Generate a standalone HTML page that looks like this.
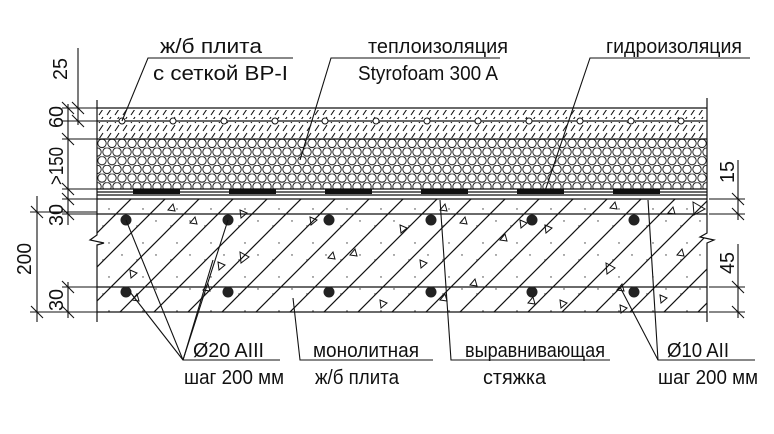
<!DOCTYPE html>
<html><head><meta charset="utf-8"><style>
html,body{margin:0;padding:0;background:#fff;}
svg{display:block;}
text{font-family:"Liberation Sans","DejaVu Sans",sans-serif;font-size:20px;fill:#111;}
</style></head><body>
<svg width="774" height="434" viewBox="0 0 774 434" xmlns="http://www.w3.org/2000/svg">
<defs>
<pattern id="hexA" x="97" y="139" width="10" height="17.32" patternUnits="userSpaceOnUse">
<circle cx="5" cy="4.33" r="4.2" fill="none" stroke="#111" stroke-width="0.9"/>
</pattern>
<pattern id="hexB" x="102" y="147.66" width="10" height="17.32" patternUnits="userSpaceOnUse">
<circle cx="5" cy="4.33" r="4.2" fill="none" stroke="#111" stroke-width="0.9"/>
</pattern>
<pattern id="sm" x="97" y="108" width="8" height="8" patternUnits="userSpaceOnUse">
<line x1="2" y1="7" x2="6" y2="1" stroke="#111" stroke-width="1.1"/>
</pattern>
<pattern id="diag" x="97" y="199" width="34" height="34" patternUnits="userSpaceOnUse">
<line x1="0" y1="34" x2="34" y2="0" stroke="#111" stroke-width="1.2"/>
<line x1="-2" y1="2" x2="2" y2="-2" stroke="#111" stroke-width="1.2"/>
<line x1="32" y1="36" x2="36" y2="32" stroke="#111" stroke-width="1.2"/>
<circle cx="12" cy="10" r="0.7" fill="#333"/><circle cx="25" cy="22" r="0.7" fill="#333"/><circle cx="6" cy="27" r="0.7" fill="#333"/>
</pattern>
</defs>
<g stroke="#111" fill="none" stroke-width="1.2">
<rect x="97" y="110" width="610" height="9" fill="url(#sm)" stroke="none"/>
<rect x="97" y="122" width="610" height="16" fill="url(#sm)" stroke="none"/>
<line x1="97" y1="108" x2="707" y2="108"/>
<line x1="97" y1="121" x2="707" y2="121"/>
<line x1="97" y1="139" x2="707" y2="139"/>
<rect x="97" y="139" width="610" height="50" fill="url(#hexA)" stroke="none"/>
<rect x="97" y="139" width="610" height="50" fill="url(#hexB)" stroke="none"/>
<line x1="97" y1="189" x2="707" y2="189"/>
<line x1="97" y1="192" x2="707" y2="192"/>
<line x1="97" y1="195" x2="707" y2="195"/>
<line x1="97" y1="199" x2="707" y2="199"/>
<rect x="97" y="199" width="610" height="113" fill="url(#diag)" stroke="none"/>
<line x1="97" y1="214" x2="707" y2="214"/>
<line x1="97" y1="287" x2="707" y2="287"/>
<line x1="97" y1="312" x2="707" y2="312"/>
<polyline points="97,100 97,235 90,240 104,243 97,245 97,322" fill="#fff" stroke="#111"/>
<polyline points="707,98 707,233 700,237 714,240 707,243 707,322" fill="#fff" stroke="#111"/>
</g>
<g fill="#111">
<rect x="133" y="189" width="47" height="5"/><rect x="229" y="189" width="47" height="5"/>
<rect x="325" y="189" width="47" height="5"/><rect x="421" y="189" width="47" height="5"/>
<rect x="517" y="189" width="47" height="5"/><rect x="613" y="189" width="47" height="5"/>
</g>
<g fill="#fff" stroke="#111" stroke-width="1">
<circle cx="122" cy="121" r="3"/><circle cx="173" cy="121" r="3"/><circle cx="224" cy="121" r="3"/><circle cx="275" cy="121" r="3"/><circle cx="325" cy="121" r="3"/><circle cx="376" cy="121" r="3"/><circle cx="427" cy="121" r="3"/><circle cx="478" cy="121" r="3"/><circle cx="529" cy="121" r="3"/><circle cx="580" cy="121" r="3"/><circle cx="631" cy="121" r="3"/><circle cx="681" cy="121" r="3"/>
</g>
<g fill="#222">
<circle cx="126" cy="220" r="5.5"/><circle cx="228" cy="220" r="5.5"/><circle cx="329" cy="220" r="5.5"/><circle cx="431" cy="220" r="5.5"/><circle cx="532" cy="220" r="5.5"/><circle cx="634" cy="220" r="5.5"/>
<circle cx="126" cy="292" r="5.5"/><circle cx="228" cy="292" r="5.5"/><circle cx="329" cy="292" r="5.5"/><circle cx="431" cy="292" r="5.5"/><circle cx="532" cy="292" r="5.5"/><circle cx="634" cy="292" r="5.5"/>
</g>
<g fill="none" stroke="#111" stroke-width="1">
<path d="M168,210 l5,-6 l2,7z"/><path d="M190,223 l5,-6 l2,7z"/><path d="M240,210 l7,3 l-6,5z"/><path d="M328,258 l5,-6 l2,7z"/><path d="M218,262 l7,3 l-6,5z"/><path d="M240,252 l9,5 l-8,6z"/><path d="M310,217 l7,3 l-6,5z"/><path d="M130,270 l7,3 l-6,5z"/><path d="M203,290 l5,-6 l2,7z"/><path d="M132,300 l5,-6 l2,7z"/><path d="M400,225 l7,3 l-6,5z"/><path d="M440,210 l5,-6 l2,7z"/><path d="M520,220 l7,3 l-6,5z"/><path d="M460,223 l5,-6 l2,7z"/><path d="M610,208 l5,-6 l2,7z"/><path d="M668,213 l5,-6 l2,7z"/><path d="M693,202 l12,7 l-11,6z"/><path d="M606,263 l9,5 l-8,6z"/><path d="M617,290 l5,-6 l2,7z"/><path d="M677,255 l5,-6 l2,7z"/><path d="M620,305 l7,3 l-6,5z"/><path d="M660,295 l7,3 l-6,5z"/><path d="M500,240 l5,-6 l2,7z"/><path d="M420,260 l7,3 l-6,5z"/><path d="M350,255 l5,-6 l2,7z"/><path d="M560,300 l7,3 l-6,5z"/><path d="M528,303 l5,-6 l2,7z"/><path d="M440,300 l5,-6 l2,7z"/><path d="M470,285 l5,-6 l2,7z"/><path d="M380,300 l7,3 l-6,5z"/><path d="M545,225 l7,3 l-6,5z"/>
</g>
<g stroke="#111" stroke-width="1.1" fill="none">
<line x1="78" y1="48" x2="78" y2="125"/>
<line x1="62" y1="108" x2="97" y2="108"/><line x1="62" y1="121" x2="97" y2="121"/>
<line x1="72" y1="102" x2="84" y2="114"/><line x1="72" y1="115" x2="84" y2="127"/>
<line x1="68" y1="104" x2="68" y2="225"/>
<line x1="62" y1="139" x2="97" y2="139"/><line x1="62" y1="189" x2="97" y2="189"/><line x1="62" y1="199" x2="97" y2="199"/><line x1="62" y1="214" x2="97" y2="214"/>
<line x1="62" y1="102" x2="74" y2="114"/><line x1="62" y1="133" x2="74" y2="145"/><line x1="62" y1="183" x2="74" y2="195"/><line x1="62" y1="193" x2="74" y2="205"/><line x1="62" y1="208" x2="74" y2="220"/>
<line x1="37" y1="196" x2="37" y2="322"/>
<line x1="30" y1="212" x2="97" y2="212"/>
<line x1="31" y1="206" x2="43" y2="218"/><line x1="31" y1="306" x2="43" y2="318"/>
<line x1="30" y1="312" x2="97" y2="312"/>
<line x1="68" y1="282" x2="68" y2="318"/><line x1="62" y1="287" x2="97" y2="287"/>
<line x1="62" y1="281" x2="74" y2="293"/><line x1="62" y1="306" x2="74" y2="318"/>
<line x1="738" y1="160" x2="738" y2="220"/>
<line x1="709" y1="199" x2="745" y2="199"/><line x1="709" y1="214" x2="745" y2="214"/>
<line x1="732" y1="193" x2="744" y2="205"/><line x1="732" y1="208" x2="744" y2="220"/>
<line x1="738" y1="244" x2="738" y2="318"/>
<line x1="709" y1="287" x2="745" y2="287"/><line x1="709" y1="312" x2="745" y2="312"/>
<line x1="732" y1="281" x2="744" y2="293"/><line x1="732" y1="306" x2="744" y2="318"/>
</g>
<g stroke="#111" stroke-width="1.1" fill="none">
<polyline points="122,121 148,58 293,58"/>
<polyline points="300,160 331,58 500,58"/>
<polyline points="545,191 590,58 750,58"/>
<polyline points="126,220 183,360 280,360"/><line x1="183" y1="360" x2="228" y2="220"/><line x1="183" y1="360" x2="130" y2="292"/><line x1="183" y1="360" x2="213" y2="260"/>
<polyline points="293,298 300,360 433,360"/>
<polyline points="440,200 451,360 610,360"/>
<polyline points="620,287 658,360 755,360"/><line x1="658" y1="360" x2="648" y2="200"/>
</g>
<g>
<text x="160" y="53" textLength="102" lengthAdjust="spacingAndGlyphs">ж/б плита</text>
<text x="153" y="80" textLength="135" lengthAdjust="spacingAndGlyphs">с сеткой ВР-I</text>
<text x="368" y="53" textLength="140" lengthAdjust="spacingAndGlyphs">теплоизоляция</text>
<text x="358" y="80" textLength="140" lengthAdjust="spacingAndGlyphs">Styrofoam 300 A</text>
<text x="606" y="53" textLength="136" lengthAdjust="spacingAndGlyphs">гидроизоляция</text>
<text x="193" y="357" textLength="71" lengthAdjust="spacingAndGlyphs">Ø20 AIII</text>
<text x="184" y="384" textLength="100" lengthAdjust="spacingAndGlyphs">шаг 200 мм</text>
<text x="313" y="357" textLength="106" lengthAdjust="spacingAndGlyphs">монолитная</text>
<text x="315" y="384" textLength="84" lengthAdjust="spacingAndGlyphs">ж/б плита</text>
<text x="465" y="357" textLength="140" lengthAdjust="spacingAndGlyphs">выравнивающая</text>
<text x="483" y="384" textLength="63" lengthAdjust="spacingAndGlyphs">стяжка</text>
<text x="667" y="357" textLength="62" lengthAdjust="spacingAndGlyphs">Ø10 AII</text>
<text x="658" y="384" textLength="100" lengthAdjust="spacingAndGlyphs">шаг 200 мм</text>
<text transform="translate(67,80) rotate(-90)" textLength="22" lengthAdjust="spacingAndGlyphs">25</text>
<text transform="translate(63,128) rotate(-90)" textLength="22" lengthAdjust="spacingAndGlyphs">60</text>
<text transform="translate(63,185) rotate(-90)" textLength="38" lengthAdjust="spacingAndGlyphs">&gt;150</text>
<text transform="translate(63,226) rotate(-90)" textLength="22" lengthAdjust="spacingAndGlyphs">30</text>
<text transform="translate(31,275) rotate(-90)" textLength="32" lengthAdjust="spacingAndGlyphs">200</text>
<text transform="translate(63,311) rotate(-90)" textLength="22" lengthAdjust="spacingAndGlyphs">30</text>
<text transform="translate(734,183) rotate(-90)" textLength="22" lengthAdjust="spacingAndGlyphs">15</text>
<text transform="translate(734,274) rotate(-90)" textLength="22" lengthAdjust="spacingAndGlyphs">45</text>
</g>
</svg>
</body></html>
